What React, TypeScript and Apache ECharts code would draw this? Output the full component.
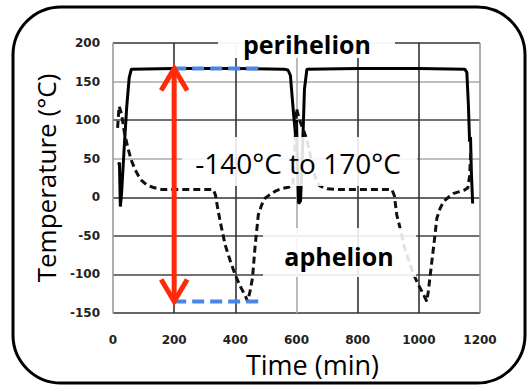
import React, { useEffect, useRef } from "react";
import * as echarts from "echarts";

// ---- data ----
const xTicks = [0, 200, 400, 600, 800, 1000, 1200];
const yTicks = [-150, -100, -50, 0, 50, 100, 150, 200];

// solid curve: [time (min), temperature (°C)]
const solidSeries: number[][] = [
  [18, 42], [21, 45], [24, -12], [28, 5], [36, 60], [45, 118], [53, 155], [60, 166],
  [200, 167], [400, 167], [560, 166], [572, 165], [580, 158], [590, 110], [597, 80],
  [600, 100], [603, 40], [607, -8], [613, -5], [618, 40], [626, 140], [634, 166],
  [800, 167], [1000, 167], [1150, 166], [1157, 162], [1162, 120], [1166, 72],
  [1169, 78], [1172, 30], [1176, -8],
];

// dashed curve: [time (min), temperature (°C)]
const dashedSeries: number[][] = [
  [15, 90], [20, 118], [28, 108], [38, 82], [50, 62], [60, 48], [72, 36], [90, 23],
  [110, 16], [130, 13], [160, 10], [250, 10], [328, 10], [335, 3], [344, -18],
  [355, -40], [367, -62], [383, -82], [400, -101], [417, -116], [433, -128],
  [440, -135], [448, -122], [456, -105], [465, -62], [475, -23], [486, -10],
  [498, -1], [515, 4], [531, 8], [550, 11], [573, 13], [588, 15], [595, 70],
  [600, 115], [610, 100], [620, 90], [633, 76], [645, 55], [655, 35], [665, 22],
  [675, 15], [700, 11], [740, 10], [840, 10], [912, 10], [920, 2], [928, -23],
  [940, -42], [951, -62], [967, -82], [984, -101], [998, -113], [1010, -122],
  [1026, -135], [1031, -122], [1036, -105], [1049, -62], [1059, -27], [1070, -14],
  [1082, -5], [1100, 1], [1114, 5], [1130, 7], [1147, 9], [1160, 12], [1166, 28],
  [1170, 60],
];

// annotation values
const arrowTime = 200;
const rangeMin = -135;
const rangeMax = 167;
const markerEndTime = 487;
const rangeLabel = "-140°C to 170°C";
const periLabel = "perihelion";
const aphLabel = "aphelion";

const RED = "#ff2a0a";
const BLUE = "#4a86e8";
const FONT = "'Open Sans', 'Noto Sans', sans-serif";

export default function App() {
  const ref = useRef<HTMLDivElement>(null);

  useEffect(() => {
    if (!ref.current) return;
    const chart = echarts.init(ref.current, null, { renderer: "svg" });

    const option: any = {
      animation: false,
      backgroundColor: "#ffffff",
      grid: { left: 113, right: 49, top: 43, bottom: 76 },
      xAxis: {
        type: "value",
        min: xTicks[0],
        max: xTicks[xTicks.length - 1],
        interval: xTicks[1] - xTicks[0],
        name: "Time (min)",
        nameLocation: "middle",
        nameGap: 36,
        nameTextStyle: {
          fontFamily: FONT,
          fontSize: 27,
          color: "#000",
          padding: [0, 0, 0, 32],
        },
        axisLine: { show: false },
        axisTick: { show: false },
        axisLabel: {
          fontFamily: "'DejaVu Sans', sans-serif",
          fontWeight: "bold",
          fontSize: 12,
          color: "#222",
          margin: 21,
          formatter: (v: number) => String(v),
        },
        splitLine: {
          show: true,
          lineStyle: {
            color: ["#999", "#333", "#333", "#aaa", "#333", "#333", "#999"],
            width: 1.6,
          },
        },
      },
      yAxis: {
        type: "value",
        min: yTicks[0],
        max: yTicks[yTicks.length - 1],
        interval: yTicks[1] - yTicks[0],
        name: "Temperature (°C)",
        nameLocation: "middle",
        nameGap: 47,
        nameTextStyle: { fontFamily: FONT, fontSize: 26, color: "#000" },
        axisLine: { show: false },
        axisTick: { show: false },
        axisLabel: {
          fontFamily: "'DejaVu Sans', sans-serif",
          fontWeight: "bold",
          fontSize: 12,
          color: "#222",
          margin: 13,
          formatter: (v: number) => String(v),
        },
        splitLine: {
          show: true,
          lineStyle: {
            color: ["#333", "#444", "#444", "#333", "#aaa", "#444", "#aaa", "#333"],
            width: 1.6,
          },
        },
      },
      series: [
        {
          type: "line",
          data: solidSeries,
          symbol: "none",
          lineStyle: { color: "#000", width: 3 },
          z: 3,
        },
        {
          type: "line",
          data: dashedSeries,
          symbol: "none",
          lineStyle: { color: "#111", width: 3, type: [7, 4] },
          z: 3,
        },
        {
          type: "line",
          data: [[arrowTime, rangeMax], [markerEndTime, rangeMax]],
          symbol: "none",
          lineStyle: { color: BLUE, width: 4, type: [12, 6] },
          z: 20,
        },
        {
          type: "line",
          data: [[arrowTime, rangeMin], [markerEndTime, rangeMin]],
          symbol: "none",
          lineStyle: { color: BLUE, width: 4, type: [12, 6] },
          z: 20,
        },
        {
          type: "custom",
          data: [[arrowTime, rangeMin, rangeMax]],
          encode: { x: 0, y: [1, 2] },
          clip: false,
          z: 21,
          renderItem: (params: any, api: any) => {
            const x = api.value(0);
            const pb = api.coord([x, api.value(1)]);
            const pt = api.coord([x, api.value(2)]);
            const hw = 13;
            const hh = 22;
            const st = { stroke: RED, lineWidth: 5, fill: "none", lineJoin: "miter", lineCap: "butt" };
            return {
              type: "group",
              children: [
                { type: "line", shape: { x1: pb[0], y1: pb[1], x2: pt[0], y2: pt[1] }, style: st },
                {
                  type: "polyline",
                  shape: { points: [[pt[0] - hw, pt[1] + hh], [pt[0], pt[1]], [pt[0] + hw, pt[1] + hh]] },
                  style: st,
                },
                {
                  type: "polyline",
                  shape: { points: [[pb[0] - hw, pb[1] - hh], [pb[0], pb[1]], [pb[0] + hw, pb[1] - hh]] },
                  style: st,
                },
              ],
            };
          },
        },
      ],
      graphic: [
        {
          type: "rect",
          z: 30,
          shape: { x: 13, y: 7, width: 512, height: 376, r: 48 },
          style: { fill: "none", stroke: "#000", lineWidth: 3 },
        },
        {
          type: "rect",
          z: 10,
          shape: { x: 218, y: 28, width: 177, height: 30 },
          style: { fill: "rgba(255,255,255,0.95)" },
        },
        {
          type: "text",
          z: 11,
          x: 307,
          y: 44,
          style: {
            text: periLabel,
            fontFamily: FONT,
            fontWeight: "bold",
            fontSize: 25,
            fill: "#000",
            align: "center",
            verticalAlign: "middle",
          },
        },
        {
          type: "rect",
          z: 10,
          shape: { x: 182, y: 137, width: 235, height: 49 },
          style: { fill: "rgba(255,255,255,0.88)" },
        },
        {
          type: "text",
          z: 11,
          x: 298,
          y: 163,
          style: {
            text: rangeLabel,
            fontFamily: FONT,
            fontSize: 28,
            fill: "#000",
            align: "center",
            verticalAlign: "middle",
          },
        },
        {
          type: "rect",
          z: 10,
          shape: { x: 263, y: 228, width: 153, height: 49 },
          style: { fill: "rgba(255,255,255,0.88)" },
        },
        {
          type: "text",
          z: 11,
          x: 339,
          y: 256,
          style: {
            text: aphLabel,
            fontFamily: FONT,
            fontWeight: "bold",
            fontSize: 25,
            fill: "#000",
            align: "center",
            verticalAlign: "middle",
          },
        },
      ],
    };

    chart.setOption(option);
    return () => chart.dispose();
  }, []);

  return (
    <div
      ref={ref}
      style={{ position: "fixed", left: 0, top: 0, width: 529, height: 389, background: "#fff" }}
    />
  );
}
